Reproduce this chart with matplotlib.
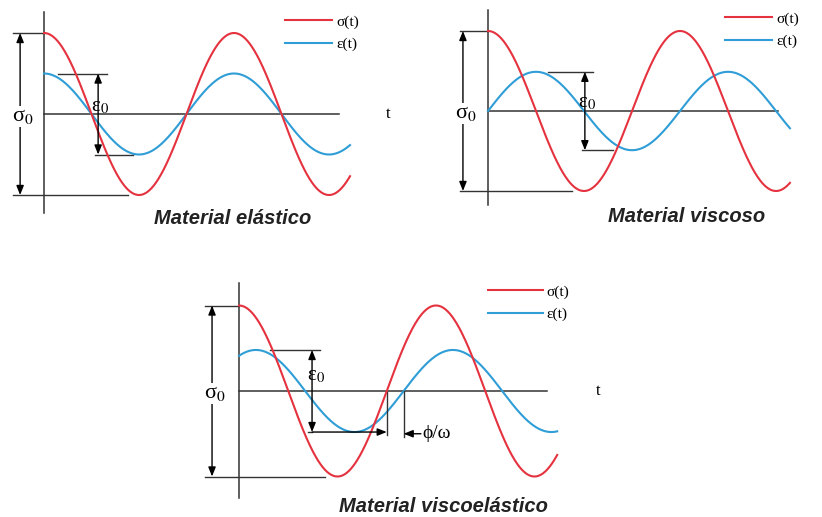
import numpy as np
import matplotlib.pyplot as plt

plt.rcParams['mathtext.fontset'] = 'stix'
plt.rcParams['font.family'] = ['Liberation Serif', 'DejaVu Serif']

# ---- data (sigma amplitude normalised to 1) ----
titles = ['Material elástico', 'Material viscoso', 'Material viscoelástico']
sigma_amp = [1.0, 1.0, 1.0]
eps_amp = [0.50, 0.49, 0.48]
phase_lag = [0.0, np.pi / 2, 0.54]   # strain lag (rad)
t_end = [10.12, 9.88, 10.15]         # length of the traces (rad)
series_labels = ['σ(t)', 'ε(t)']

# ---- layout, in pixels of the 822x517 picture ----
W, H = 822, 517
boxes = [(0, 0, 411, 235), (411, 0, 822, 235), (180, 262, 640, 517)]
origins = [(44, 114), (488, 111), (239, 391)]
px_rad = [30.24, 30.56, 31.35]
px_unit = [81, 80, 85.5]
legend_at = [(285, 15), (725, 12), (488, 285)]
legend_len = [3.1, 3.1, 3.6]
title_at = [(233, 218), (687, 217), (443, 507)]

axis_top = [1.26, 1.26, 1.26]
axis_bottom = [-1.22, -1.18, -1.25]
axis_end = [9.75, 9.49, 9.82]
t_label_x = [11.38, None, 11.45]
sig_x = [-0.79, -0.82, -0.86]
sig_left = [-1.03, -0.92, -1.08]
sig_right = [2.78, 2.75, 2.74]
eps_x = [1.79, 3.17, 2.33]
eps_top = [(0.46, 2.08), (1.96, 3.44), (0.99, 2.58)]
eps_bot = [(1.69, 2.94), (3.08, 4.09), (2.20, None)]
eps_label = [(1.85, 0.09), (3.24, 0.10), (2.46, 0.18)]

RED = '#e5323f'
BLUE = '#2f9dd6'
INK = '#333333'

fig = plt.figure(figsize=(W / 100, H / 100), dpi=100)


def make_axes(box, origin, sx, sy):
    x0, y0, x1, y1 = box
    ax = fig.add_axes([x0 / W, 1 - y1 / H, (x1 - x0) / W, (y1 - y0) / H])
    ox, oy = origin
    ax.set_xlim((x0 - ox) / sx, (x1 - ox) / sx)
    ax.set_ylim((oy - y1) / sy, (oy - y0) / sy)
    ax.axis('off')
    return ax


def arrow(ax, a, b, style='<|-|>'):
    ax.annotate('', xy=b, xytext=a,
                arrowprops=dict(arrowstyle=style + ',head_length=0.55,head_width=0.22',
                                color='black', lw=1.0, shrinkA=0, shrinkB=0),
                annotation_clip=False)


for i in range(3):
    ax = make_axes(boxes[i], origins[i], px_rad[i], px_unit[i])
    S, E = sigma_amp[i], eps_amp[i]

    # axes drawn by hand
    ax.plot([0, 0], [axis_bottom[i], axis_top[i]], color=INK, lw=1.1, zorder=1)
    ax.plot([0, axis_end[i]], [0, 0], color=INK, lw=1.1, zorder=1)
    if t_label_x[i] is not None:
        ax.text(t_label_x[i], 0, 't', fontsize=12, ha='center', va='center')

    # the two signals
    t = np.linspace(0, t_end[i], 600)
    ax.plot(t, S * np.cos(t), color=RED, lw=1.5, label=series_labels[0], zorder=3)
    ax.plot(t, E * np.cos(t - phase_lag[i]), color=BLUE, lw=1.5,
            label=series_labels[1], zorder=2)

    # sigma_0 dimension
    ax.plot([sig_left[i], 0], [S, S], color=INK, lw=1.0)
    ax.plot([sig_left[i], sig_right[i]], [-S, -S], color=INK, lw=1.0)
    arrow(ax, (sig_x[i], -S), (sig_x[i], S))
    ax.text(sig_x[i] + 0.1, -0.03, 'σ$_0$', fontsize=16, ha='center', va='center',
            bbox=dict(fc='white', ec='none', pad=0.5), zorder=4)

    # epsilon_0 dimension
    ax.plot(eps_top[i], [E, E], color=INK, lw=1.0)
    arrow(ax, (eps_x[i], -E), (eps_x[i], E))
    if eps_bot[i][1] is not None:
        ax.plot(eps_bot[i], [-E, -E], color=INK, lw=1.0)
    else:
        # phase lag marker between the rising zero crossings
        t_s = 1.5 * np.pi
        t_e = t_s + phase_lag[i]
        ax.plot([eps_bot[i][0], eps_x[i]], [-E, -E], color=INK, lw=1.0)
        arrow(ax, (eps_x[i], -E), (t_s, -E), style='-|>')
        ax.plot([t_s, t_s], [0, -E - 0.04], color=INK, lw=1.0)
        ax.plot([t_e, t_e], [0, -E - 0.06], color=INK, lw=1.0)
        arrow(ax, (t_e + 0.55, -E - 0.02), (t_e, -E - 0.02), style='-|>')
        ax.text(t_e + 0.6, -E - 0.02, 'ϕ/ω', fontsize=14, ha='left', va='center')
    ax.text(eps_label[i][0], eps_label[i][1], 'ε$_0$', fontsize=15,
            ha='center', va='center')

    lx, ly = legend_at[i]
    ax.legend(loc='upper left', bbox_to_anchor=(lx / W, 1 - ly / H),
              bbox_transform=fig.transFigure, frameon=False, fontsize=11,
              handlelength=legend_len[i], handletextpad=0.25, borderpad=0,
              borderaxespad=0, labelspacing=0.55)

    tx, ty = title_at[i]
    fig.text(tx / W, 1 - ty / H, titles[i], fontsize=14.5, family='Liberation Sans',
             weight='bold', style='italic', color='#222222', ha='center', va='center')

fig.savefig('out.png', dpi=100)
